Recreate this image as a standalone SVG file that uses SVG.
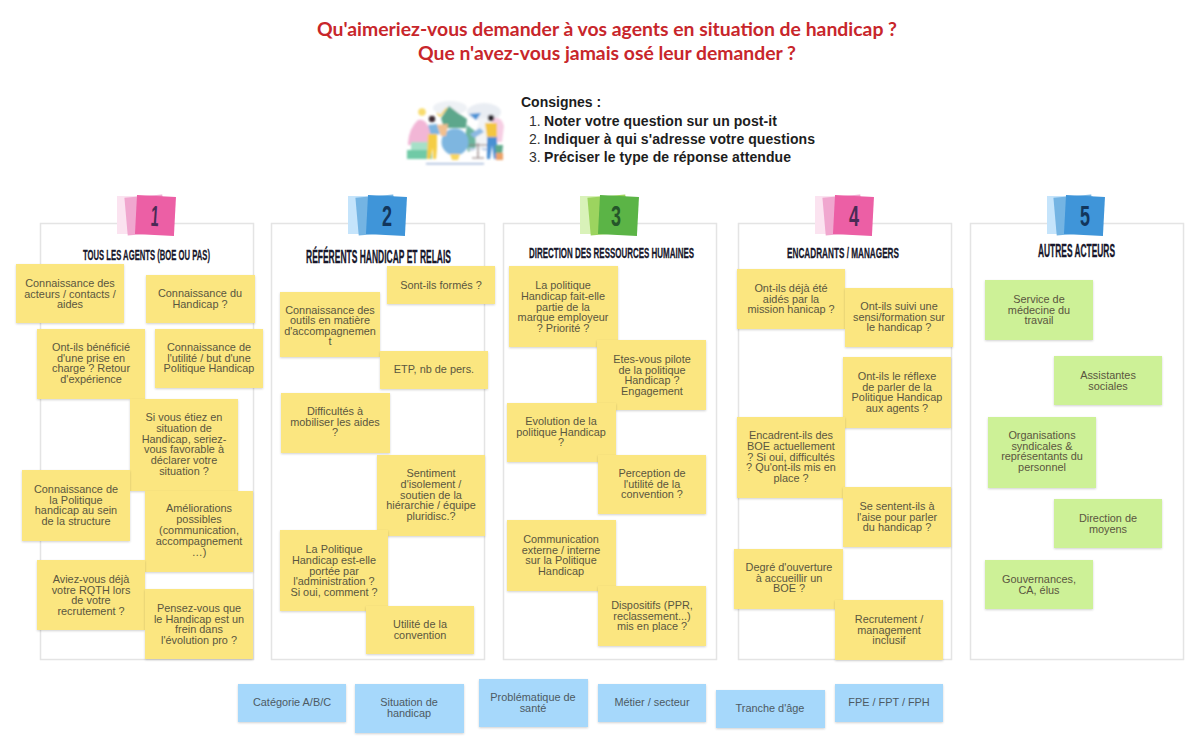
<svg xmlns="http://www.w3.org/2000/svg" width="1200" height="752" viewBox="0 0 1200 752">
<style>
text{font-family:"Liberation Sans",Arial,sans-serif}
.title{font-family:Lato,"Liberation Sans",sans-serif;font-size:18px;font-weight:700;fill:#c8262b;text-anchor:middle}
.cons{font-size:14px;font-weight:700;fill:#1d1d1d}
.num{font-size:14px;fill:#333}
.panel{fill:#fff;stroke:#e4e4e4;stroke-width:1.5}
.head{font-family:"Liberation Sans Narrow","Liberation Sans",sans-serif;font-size:11px;font-weight:700;fill:#17172b;text-anchor:middle;stroke:#17172b;stroke-width:.2}
.badge{font-family:"Liberation Sans Narrow","Liberation Sans",sans-serif;font-size:29px;font-weight:700;text-anchor:middle}
.y rect{fill:#fbe680;filter:url(#sh)}
.g rect{fill:#cdf197;filter:url(#sh)}
.b rect{fill:#a6d8fb;filter:url(#sh)}
.y text,.g text,.b text{font-size:10.9px;fill:#5a563f;text-anchor:middle}
.b text{fill:#4d5a63}
</style>
<defs>
<filter id="sh" x="-5%" y="-5%" width="110%" height="115%"><feDropShadow dx="0" dy="1" stdDeviation="0.8" flood-color="#000" flood-opacity="0.18"/></filter>
<filter id="soft" x="-5%" y="-5%" width="110%" height="110%"><feGaussianBlur stdDeviation="0.8"/></filter>
</defs>
<rect width="1200" height="752" fill="#fff"/>
<g id="title">
<text class="title" x="607" y="36" textLength="580" lengthAdjust="spacingAndGlyphs">Qu'aimeriez-vous demander à vos agents en situation de handicap ?</text>
<text class="title" x="607" y="60" textLength="378" lengthAdjust="spacingAndGlyphs">Que n'avez-vous jamais osé leur demander ?</text>
</g>
<g id="illustration" filter="url(#soft)">
<ellipse cx="484" cy="112" rx="17" ry="9" fill="#e9edf3"/>
<ellipse cx="450" cy="108" rx="17" ry="7" fill="#eef1f5"/>
<path d="M480 118 L490 118 L485 150 L470 150Z" fill="#f2f4f7"/>
<path d="M408 143 Q409 128 418 120 Q425 118 429 128 L434 145 L408 145Z" fill="#f2b6d6"/>
<path d="M492 118 Q502 116 504 126 L502 142 L494 142Z" fill="#f6cde3"/>
<circle cx="422" cy="112" r="3.8" fill="#f8dc6d"/>
<path d="M437 113 L440 116 L447 108" fill="none" stroke="#f5d04f" stroke-width="1.6"/>
<path d="M449 106 L458 113 L467 119 L466 128 L444 128 L441 118Z" fill="#5da78c"/>
<path d="M467 125 L475 131 L476 147 L468 152 L465 138Z" fill="#6cb59d"/>
<path d="M469 114 L481 113 L476 120Z" fill="#4a93d6"/>
<rect x="411" y="142" width="21" height="8" fill="#a6e0c8"/>
<rect x="407" y="150" width="25" height="9" fill="#6fcaa6"/>
<circle cx="455" cy="142" r="13.5" fill="#7eb6e0"/>
<path d="M450 154 h10 l-2 6 h-6Z" fill="#f8d65e"/>
<path d="M428 125 L437 124 L440 134 L431 136Z" fill="#7eb5e0"/>
<path d="M437 125 L448 124 L446 136 L441 136Z" fill="#f2c08f"/>
<circle cx="432" cy="119" r="3.2" fill="#3c2b33"/>
<path d="M428 134 L437 134 L437 148 L436 159 L433 159 L433 148 L430 159 L427 159Z" fill="#f5cd45"/>
<path d="M470 134 L480 128 L484 132 L474 138Z" fill="#8db9e3"/>
<path d="M478 143 V158 M469 145 H487 M472 158 H484" stroke="#8c7b7a" stroke-width="1.2" fill="none"/>
<path d="M468 148 Q472 154 476 148Z M481 148 Q485 154 489 148Z" fill="#c4d4ea"/>
<circle cx="491" cy="118" r="3.2" fill="#2d2a33"/>
<path d="M485 123 L497 123 L497 137 L487 137Z" fill="#f3c63f"/>
<path d="M487 137 L497 137 L497 159 L494 159 L492 145 L490 159 L487 159Z" fill="#4a8fd3"/>
<path d="M495 145 L503 145 L502 155 L496 155Z" fill="#5ea98b"/>
<rect x="496" y="153" width="7" height="7" fill="#eca268"/>
<rect x="426" y="163" width="58" height="1.4" fill="#9fb4d8"/>
</g>
<g id="consignes">
<text class="cons" x="521" y="107">Consignes :</text>
<text class="num" x="529" y="126">1.</text><text class="cons" x="544" y="126" textLength="233">Noter votre question sur un post-it</text>
<text class="num" x="529" y="144">2.</text><text class="cons" x="544" y="144" textLength="271">Indiquer à qui s'adresse votre questions</text>
<text class="num" x="529" y="162">3.</text><text class="cons" x="544" y="162" textLength="247">Préciser le type de réponse attendue</text>
</g>
<g id="connectors"></g>
<g id="panels">
<rect class="panel" x="40.5" y="223.5" width="213" height="436"/>
<rect class="panel" x="271.5" y="223.5" width="213" height="436"/>
<rect class="panel" x="503.5" y="223.5" width="213" height="436"/>
<rect class="panel" x="738.5" y="223.5" width="213" height="436"/>
<rect class="panel" x="970.5" y="223.5" width="213" height="436"/>
</g>
<g id="badge-1">
<rect x="117" y="196" width="46" height="38" fill="#fbe3f0"/>
<rect x="126" y="196" width="38" height="38" fill="#f0a7cf" transform="rotate(-5 145 215)"/>
<rect x="136" y="196" width="39" height="39" fill="#ec5fa5" transform="rotate(3 155 215)"/>
<text class="badge" x="155" y="226" fill="#4a2a55" textLength="8" lengthAdjust="spacingAndGlyphs" transform="rotate(4 155 215)">1</text>
</g>
<g id="badge-2">
<rect x="348" y="196" width="46" height="38" fill="#c5e4fb"/>
<rect x="357" y="196" width="38" height="38" fill="#74b4e3" transform="rotate(-5 376 215)"/>
<rect x="367" y="196" width="39" height="39" fill="#3f95d9" transform="rotate(3 387 215)"/>
<text class="badge" x="387" y="226" fill="#12365c" textLength="10" lengthAdjust="spacingAndGlyphs">2</text>
</g>
<g id="badge-3">
<rect x="580" y="196" width="46" height="38" fill="#d9f2b9"/>
<rect x="589" y="196" width="38" height="38" fill="#9cd45f" transform="rotate(-5 608 215)"/>
<rect x="599" y="196" width="39" height="39" fill="#5bb446" transform="rotate(3 619 215)"/>
<text class="badge" x="616" y="226" fill="#25562a" textLength="10" lengthAdjust="spacingAndGlyphs">3</text>
</g>
<g id="badge-4">
<rect x="815" y="196" width="46" height="38" fill="#fbe3f0"/>
<rect x="824" y="196" width="38" height="38" fill="#f0a7cf" transform="rotate(-5 843 215)"/>
<rect x="834" y="196" width="39" height="39" fill="#ec5fa5" transform="rotate(3 854 215)"/>
<text class="badge" x="854" y="226" fill="#4a2a55" textLength="10" lengthAdjust="spacingAndGlyphs">4</text>
</g>
<g id="badge-5">
<rect x="1047" y="196" width="46" height="38" fill="#c5e4fb"/>
<rect x="1055" y="196" width="38" height="38" fill="#74b4e3" transform="rotate(-5 1074 215)"/>
<rect x="1065" y="196" width="39" height="39" fill="#3f95d9" transform="rotate(3 1085 215)"/>
<text class="badge" x="1085" y="226" fill="#12365c" textLength="10" lengthAdjust="spacingAndGlyphs">5</text>
</g>
<g id="headings">
<text class="head" transform="translate(146.5 260) scale(1 1.37)" textLength="127" lengthAdjust="spacingAndGlyphs">TOUS LES AGENTS (BOE OU PAS)</text>
<text class="head" transform="translate(378.5 263) scale(1 1.64)" textLength="145" lengthAdjust="spacingAndGlyphs">RÉFÉRENTS HANDICAP ET RELAIS</text>
<text class="head" transform="translate(611.5 258) scale(1 1.37)" textLength="165" lengthAdjust="spacingAndGlyphs">DIRECTION DES RESSOURCES HUMAINES</text>
<text class="head" transform="translate(843 258) scale(1 1.41)" textLength="112" lengthAdjust="spacingAndGlyphs">ENCADRANTS / MANAGERS</text>
<text class="head" transform="translate(1076.5 257) scale(1 1.59)" textLength="77" lengthAdjust="spacingAndGlyphs">AUTRES ACTEURS</text>
</g>
<g id="n1-1" class="y"><rect x="16" y="264" width="108" height="59"/><text y="287"><tspan x="70">Connaissance des</tspan><tspan x="70" dy="10.7">acteurs / contacts /</tspan><tspan x="70" dy="10.7">aides</tspan></text></g>
<g id="n1-2" class="y"><rect x="146" y="275" width="109" height="48"/><text y="297"><tspan x="200">Connaissance du</tspan><tspan x="200" dy="10.7">Handicap ?</tspan></text></g>
<g id="n1-3" class="y"><rect x="37" y="329" width="108" height="70"/><text y="351"><tspan x="91">Ont-ils bénéficié</tspan><tspan x="91" dy="10.7">d'une prise en</tspan><tspan x="91" dy="10.7">charge ? Retour</tspan><tspan x="91" dy="10.7">d'expérience</tspan></text></g>
<g id="n1-4" class="y"><rect x="155" y="329" width="108" height="59"/><text y="351"><tspan x="209">Connaissance de</tspan><tspan x="209" dy="10.7">l'utilité / but d'une</tspan><tspan x="209" dy="10.7">Politique Handicap</tspan></text></g>
<g id="n1-5" class="y"><rect x="130" y="399" width="108" height="92"/><text y="421"><tspan x="184">Si vous étiez en</tspan><tspan x="184" dy="10.8">situation de</tspan><tspan x="184" dy="10.8">Handicap, seriez-</tspan><tspan x="184" dy="10.8">vous favorable à</tspan><tspan x="184" dy="10.8">déclarer votre</tspan><tspan x="184" dy="10.8">situation ?</tspan></text></g>
<g id="n1-6" class="y"><rect x="22" y="470" width="108" height="71"/><text y="493"><tspan x="76">Connaissance de</tspan><tspan x="76" dy="10.7">la Politique</tspan><tspan x="76" dy="10.7">handicap au sein</tspan><tspan x="76" dy="10.7">de la structure</tspan></text></g>
<g id="n1-7" class="y"><rect x="145" y="491" width="108" height="81"/><text y="512"><tspan x="199">Améliorations</tspan><tspan x="199" dy="11">possibles</tspan><tspan x="199" dy="11">(communication,</tspan><tspan x="199" dy="11">accompagnement</tspan><tspan x="199" dy="11">…)</tspan></text></g>
<g id="n1-8" class="y"><rect x="37" y="560" width="108" height="70"/><text y="583"><tspan x="91">Aviez-vous déjà</tspan><tspan x="91" dy="10.7">votre RQTH lors</tspan><tspan x="91" dy="10.7">de votre</tspan><tspan x="91" dy="10.7">recrutement ?</tspan></text></g>
<g id="n1-9" class="y"><rect x="145" y="589" width="108" height="70"/><text y="612"><tspan x="199">Pensez-vous que</tspan><tspan x="199" dy="10.7">le Handicap est un</tspan><tspan x="199" dy="10.7">frein dans</tspan><tspan x="199" dy="10.7">l'évolution pro ?</tspan></text></g>
<g id="n2-1" class="y"><rect x="387" y="266" width="108" height="38"/><text x="441" y="289">Sont-ils formés ?</text></g>
<g id="n2-2" class="y"><rect x="280" y="292" width="100" height="65"/><text y="314"><tspan x="330">Connaissance des</tspan><tspan x="330" dy="10.4">outils en matière</tspan><tspan x="330" dy="10.4">d'accompagnemen</tspan><tspan x="330" dy="10.4">t</tspan></text></g>
<g id="n2-3" class="y"><rect x="380" y="351" width="108" height="38"/><text x="434" y="373">ETP, nb de pers.</text></g>
<g id="n2-4" class="y"><rect x="281" y="393" width="109" height="60"/><text y="415"><tspan x="335">Difficultés à</tspan><tspan x="335" dy="10.7">mobiliser les aides</tspan><tspan x="335" dy="10.7">?</tspan></text></g>
<g id="n2-5" class="y"><rect x="377" y="455" width="108" height="81"/><text y="477"><tspan x="431">Sentiment</tspan><tspan x="431" dy="10.8">d'isolement /</tspan><tspan x="431" dy="10.8">soutien de la</tspan><tspan x="431" dy="10.8">hiérarchie / équipe</tspan><tspan x="431" dy="10.8">pluridisc.?</tspan></text></g>
<g id="n2-6" class="y"><rect x="280" y="530" width="108" height="81"/><text y="553"><tspan x="334">La Politique</tspan><tspan x="334" dy="10.8">Handicap est-elle</tspan><tspan x="334" dy="10.8">portée par</tspan><tspan x="334" dy="10.8">l'administration ?</tspan><tspan x="334" dy="10.8">Si oui, comment ?</tspan></text></g>
<g id="n2-7" class="y"><rect x="366" y="606" width="108" height="48"/><text y="628"><tspan x="420">Utilité de la</tspan><tspan x="420" dy="10.7">convention</tspan></text></g>
<g id="n3-1" class="y"><rect x="509" y="266" width="109" height="81"/><text y="289"><tspan x="563">La politique</tspan><tspan x="563" dy="10.8">Handicap fait-elle</tspan><tspan x="563" dy="10.8">partie de la</tspan><tspan x="563" dy="10.8">marque employeur</tspan><tspan x="563" dy="10.8">? Priorité ?</tspan></text></g>
<g id="n3-2" class="y"><rect x="597" y="340" width="109" height="70"/><text y="363"><tspan x="652">Etes-vous pilote</tspan><tspan x="652" dy="10.7">de la politique</tspan><tspan x="652" dy="10.7">Handicap ?</tspan><tspan x="652" dy="10.7">Engagement</tspan></text></g>
<g id="n3-3" class="y"><rect x="507" y="403" width="109" height="59"/><text y="425"><tspan x="561">Evolution de la</tspan><tspan x="561" dy="10.7">politique Handicap</tspan><tspan x="561" dy="10.7">?</tspan></text></g>
<g id="n3-4" class="y"><rect x="598" y="455" width="108" height="59"/><text y="477"><tspan x="652">Perception de</tspan><tspan x="652" dy="10.7">l'utilité de la</tspan><tspan x="652" dy="10.7">convention ?</tspan></text></g>
<g id="n3-5" class="y"><rect x="507" y="520" width="109" height="71"/><text y="543"><tspan x="561">Communication</tspan><tspan x="561" dy="10.7">externe / interne</tspan><tspan x="561" dy="10.7">sur la Politique</tspan><tspan x="561" dy="10.7">Handicap</tspan></text></g>
<g id="n3-6" class="y"><rect x="598" y="586" width="108" height="60"/><text y="609"><tspan x="652">Dispositifs (PPR,</tspan><tspan x="652" dy="10.7">reclassement...)</tspan><tspan x="652" dy="10.7">mis en place ?</tspan></text></g>
<g id="n4-1" class="y"><rect x="737" y="269" width="108" height="60"/><text y="292"><tspan x="791">Ont-ils déjà été</tspan><tspan x="791" dy="10.7">aidés par la</tspan><tspan x="791" dy="10.7">mission hanicap ?</tspan></text></g>
<g id="n4-2" class="y"><rect x="845" y="288" width="108" height="59"/><text y="310"><tspan x="899">Ont-ils suivi une</tspan><tspan x="899" dy="10.7">sensi/formation sur</tspan><tspan x="899" dy="10.7">le handicap ?</tspan></text></g>
<g id="n4-3" class="y"><rect x="843" y="357" width="108" height="71"/><text y="380"><tspan x="897">Ont-ils le réflexe</tspan><tspan x="897" dy="10.7">de parler de la</tspan><tspan x="897" dy="10.7">Politique Handicap</tspan><tspan x="897" dy="10.7">aux agents ?</tspan></text></g>
<g id="n4-4" class="y"><rect x="737" y="417" width="108" height="81"/><text y="439"><tspan x="791">Encadrent-ils des</tspan><tspan x="791" dy="10.8">BOE actuellement</tspan><tspan x="791" dy="10.8">? Si oui, difficultés</tspan><tspan x="791" dy="10.8">? Qu'ont-ils mis en</tspan><tspan x="791" dy="10.8">place ?</tspan></text></g>
<g id="n4-5" class="y"><rect x="843" y="487" width="108" height="60"/><text y="510"><tspan x="897">Se sentent-ils à</tspan><tspan x="897" dy="10.7">l'aise pour parler</tspan><tspan x="897" dy="10.7">du handicap ?</tspan></text></g>
<g id="n4-6" class="y"><rect x="734" y="549" width="109" height="60"/><text y="571"><tspan x="789">Degré d'ouverture</tspan><tspan x="789" dy="10.7">à accueillir un</tspan><tspan x="789" dy="10.7">BOE ?</tspan></text></g>
<g id="n4-7" class="y"><rect x="835" y="600" width="108" height="60"/><text y="623"><tspan x="889">Recrutement /</tspan><tspan x="889" dy="10.7">management</tspan><tspan x="889" dy="10.7">inclusif</tspan></text></g>
<g id="n5-1" class="g"><rect x="985" y="280" width="108" height="60"/><text y="303"><tspan x="1039">Service de</tspan><tspan x="1039" dy="10.7">médecine du</tspan><tspan x="1039" dy="10.7">travail</tspan></text></g>
<g id="n5-2" class="g"><rect x="1054" y="356" width="108" height="49"/><text y="379"><tspan x="1108">Assistantes</tspan><tspan x="1108" dy="10.7">sociales</tspan></text></g>
<g id="n5-3" class="g"><rect x="988" y="417" width="108" height="71"/><text y="439"><tspan x="1042">Organisations</tspan><tspan x="1042" dy="10.7">syndicales &amp;</tspan><tspan x="1042" dy="10.7">représentants du</tspan><tspan x="1042" dy="10.7">personnel</tspan></text></g>
<g id="n5-4" class="g"><rect x="1054" y="499" width="108" height="49"/><text y="522"><tspan x="1108">Direction de</tspan><tspan x="1108" dy="10.7">moyens</tspan></text></g>
<g id="n5-5" class="g"><rect x="985" y="560" width="108" height="49"/><text y="583"><tspan x="1039">Gouvernances,</tspan><tspan x="1039" dy="10.7">CA, élus</tspan></text></g>
<g id="b1" class="b"><rect x="238" y="684" width="108" height="38"/><text x="292" y="706">Catégorie A/B/C</text></g>
<g id="b2" class="b"><rect x="355" y="684" width="109" height="49"/><text y="706"><tspan x="409">Situation de</tspan><tspan x="409" dy="10.7">handicap</tspan></text></g>
<g id="b3" class="b"><rect x="479" y="679" width="109" height="48"/><text y="701"><tspan x="533">Problématique de</tspan><tspan x="533" dy="10.7">santé</tspan></text></g>
<g id="b4" class="b"><rect x="598" y="684" width="108" height="38"/><text x="652" y="706">Métier / secteur</text></g>
<g id="b5" class="b"><rect x="716" y="690" width="109" height="38"/><text x="770" y="712">Tranche d'âge</text></g>
<g id="b6" class="b"><rect x="835" y="684" width="108" height="38"/><text x="889" y="706">FPE / FPT / FPH</text></g>
</svg>
